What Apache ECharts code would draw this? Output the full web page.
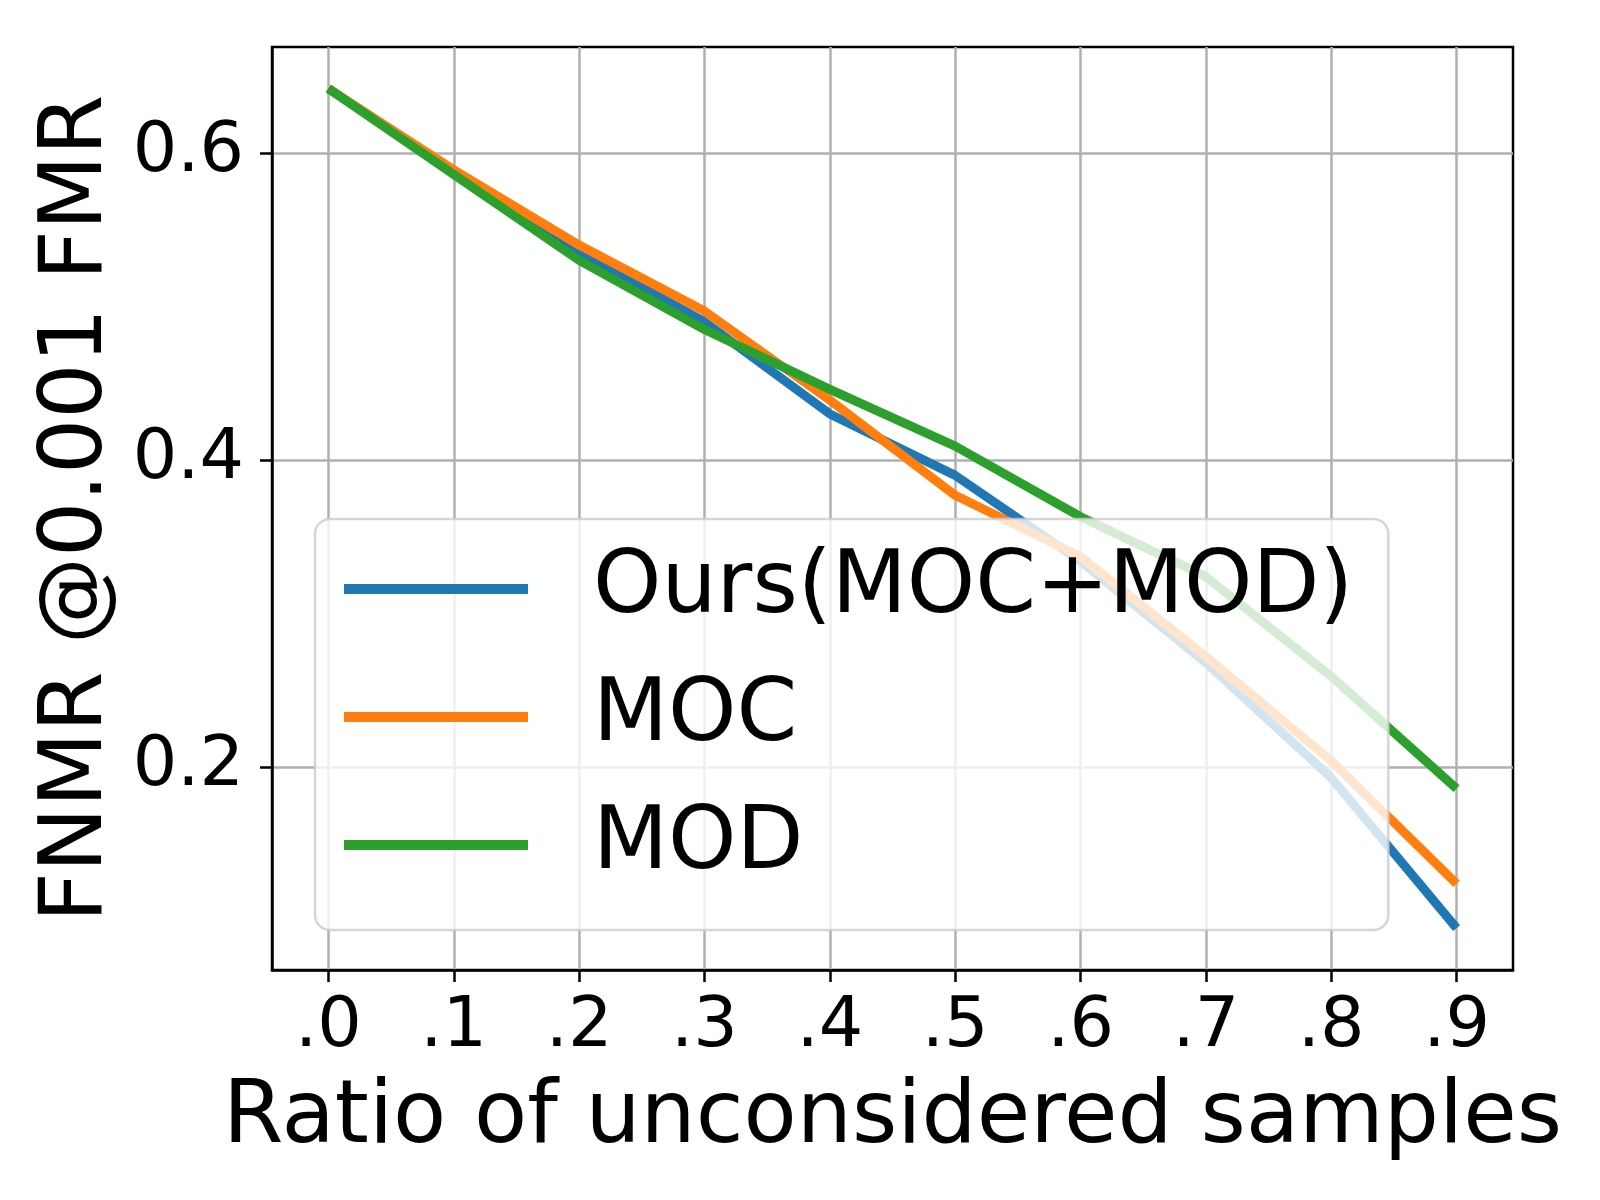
<!DOCTYPE html>
<html>
<head>
<meta charset="utf-8">
<script src="https://cdn.jsdelivr.net/npm/echarts@6/dist/echarts.min.js"></script>
<style>
body { margin: 0; background: #fff; }
#chart { width: 1600px; height: 1200px; }
</style>
</head>
<body>
<div id="chart"></div>
<script>
// ratio of unconsidered samples
var xVals = [0, 0.1, 0.2, 0.3, 0.4, 0.5, 0.6, 0.7, 0.8, 0.9];
var xTickLabels = ['.0', '.1', '.2', '.3', '.4', '.5', '.6', '.7', '.8', '.9'];
var yTicks = [0.2, 0.4, 0.6];

var seriesNames = ['Ours(MOC+MOD)', 'MOC', 'MOD'];
var oursVals = [0.642, 0.587, 0.535, 0.490, 0.430, 0.390, 0.334, 0.268, 0.193, 0.095];
var mocVals = [0.642, 0.589, 0.540, 0.497, 0.439, 0.377, 0.337, 0.272, 0.204, 0.124];
var modVals = [0.642, 0.586, 0.530, 0.485, 0.446, 0.409, 0.363, 0.324, 0.259, 0.186];

var colors = ['#1f77b4', '#ff7f0e', '#2ca02c'];
var font = 'DejaVu Sans';

function toPairs(vals) {
    var out = [];
    for (var i = 0; i < xVals.length; i++) {
        out.push([xVals[i], vals[i]]);
    }
    return out;
}

function makeSeries(name, vals, color) {
    return {
        name: name,
        type: 'line',
        data: toPairs(vals),
        showSymbol: false,
        symbol: 'none',
        color: color,
        lineStyle: { color: color, width: 9, cap: 'butt', join: 'round' },
        emphasis: { disabled: true }
    };
}

var chart = echarts.init(document.getElementById('chart'), null, { renderer: 'canvas' });

var option = {
    animation: false,
    backgroundColor: '#ffffff',
    textStyle: { fontFamily: font },
    grid: {
        left: 272,
        right: 87,
        top: 47,
        bottom: 230,
        containLabel: false,
        outerBoundsMode: 'none',
        show: true,
        borderColor: '#000000',
        borderWidth: 2.5,
        backgroundColor: 'transparent'
    },
    legend: {
        data: seriesNames,
        orient: 'vertical',
        left: 315,
        top: 519,
        padding: [22, 35, 37, 29],
        itemWidth: 184,
        itemHeight: 10,
        itemGap: 32,
        icon: 'rect',
        backgroundColor: 'rgba(255,255,255,0.8)',
        borderColor: 'rgba(204,204,204,0.8)',
        borderWidth: 2.5,
        borderRadius: 15,
        selectedMode: false,
        textStyle: {
            fontFamily: font,
            fontSize: 87,
            lineHeight: 86,
            color: '#000000',
            padding: [10, 0, 0, 60]
        }
    },
    xAxis: {
        type: 'value',
        min: -0.045,
        max: 0.945,
        name: 'Ratio of unconsidered samples',
        nameLocation: 'middle',
        nameGap: 106,
        nameTextStyle: { fontFamily: font, fontSize: 87, color: '#000000' },
        axisLine: { show: true, onZero: false, lineStyle: { color: '#000000', width: 2.5 } },
        axisTick: {
            show: true,
            inside: false,
            length: 12,
            customValues: xVals,
            lineStyle: { color: '#000000', width: 2.5 }
        },
        axisLabel: {
            customValues: xVals,
            margin: 23,
            fontFamily: font,
            fontSize: 70,
            color: '#000000',
            formatter: function (v) {
                return xTickLabels[Math.round(v * 10)];
            }
        },
        splitLine: { show: true, lineStyle: { color: '#b0b0b0', width: 2.5 } }
    },
    yAxis: {
        type: 'value',
        min: 0.0678,
        max: 0.669,
        name: 'FNMR @0.001 FMR',
        nameLocation: 'middle',
        nameGap: 148,
        nameTextStyle: { fontFamily: font, fontSize: 87, color: '#000000' },
        axisLine: { show: true, onZero: false, lineStyle: { color: '#000000', width: 2.5 } },
        axisTick: {
            show: true,
            inside: false,
            length: 12,
            customValues: yTicks,
            lineStyle: { color: '#000000', width: 2.5 }
        },
        axisLabel: {
            customValues: yTicks,
            margin: 28,
            fontFamily: font,
            fontSize: 70,
            color: '#000000',
            formatter: function (v) {
                return v.toFixed(1);
            }
        },
        splitLine: { show: true, lineStyle: { color: '#b0b0b0', width: 2.5 } }
    },
    series: [
        makeSeries(seriesNames[0], oursVals, colors[0]),
        makeSeries(seriesNames[1], mocVals, colors[1]),
        makeSeries(seriesNames[2], modVals, colors[2])
    ]
};

chart.setOption(option);
</script>
</body>
</html>
